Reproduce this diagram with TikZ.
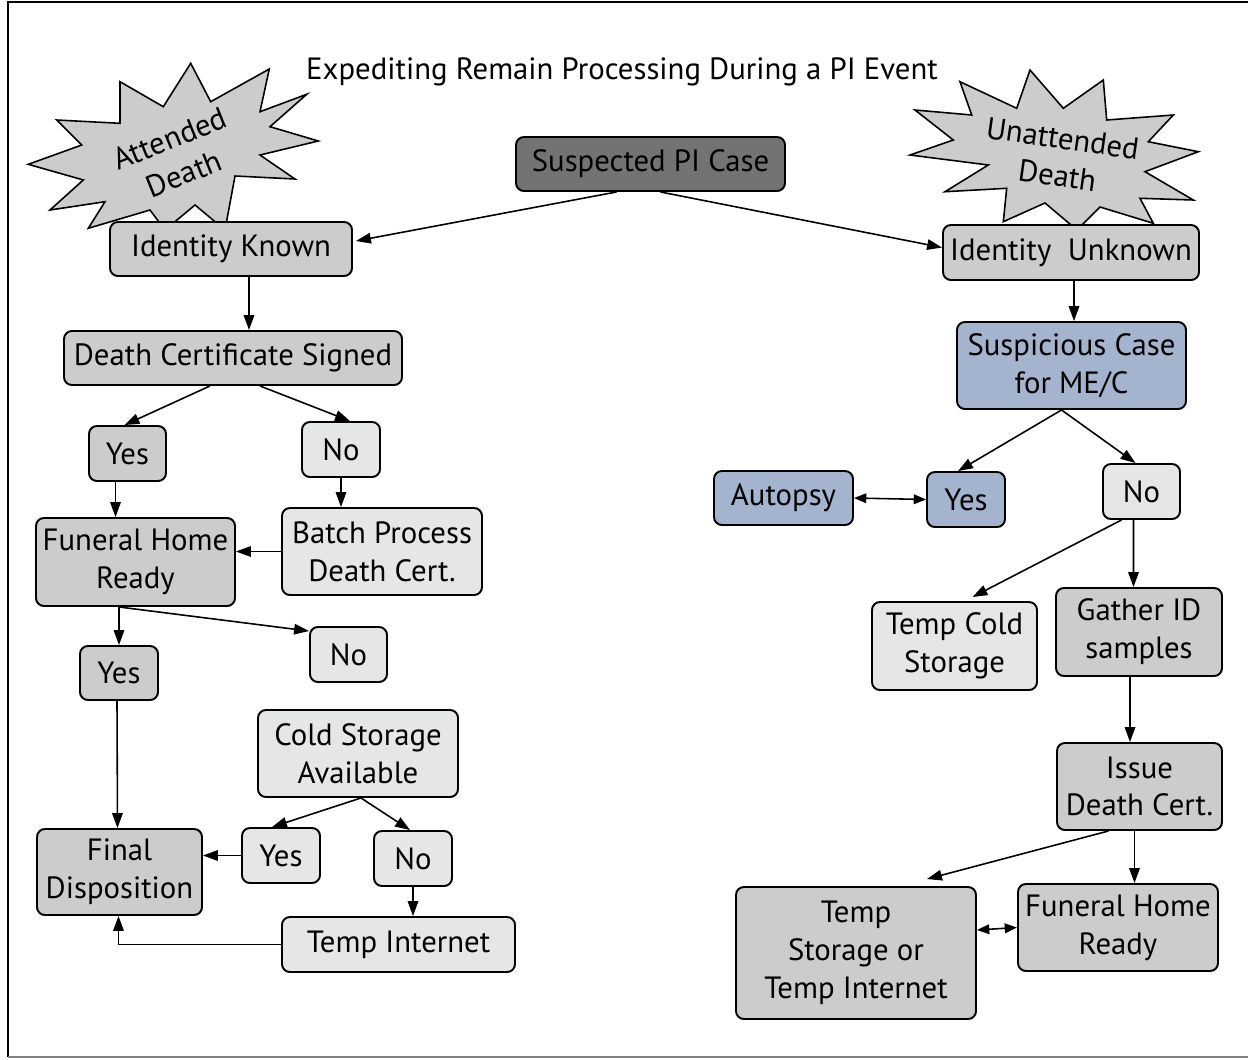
\documentclass[tikz,border=0pt]{standalone}
\usepackage{fontspec}
\setmainfont{PT Sans}
\usepackage{tikz}
\usetikzlibrary{arrows.meta, calc}

\definecolor{darkfill}{RGB}{115,115,115}
\definecolor{midfill}{RGB}{204,204,204}
\definecolor{lightfill}{RGB}{229,230,230}
\definecolor{bluefill}{RGB}{164,180,207}

\tikzset{
  box/.style={draw, line width=1.1pt, rounded corners=4.5pt, align=center, inner sep=0pt},
  darkbox/.style={box, fill=darkfill},
  midbox/.style={box, fill=midfill},
  lightbox/.style={box, fill=lightfill},
  bluebox/.style={box, fill=bluefill},
  wh/.style 2 args={minimum width=#1*0.02cm, minimum height=#2*0.02cm},
  arr/.style={-{Triangle[length=8.5pt,width=6pt]}, line width=0.9pt},
  darr/.style={{Triangle[length=7pt,width=5.5pt]}-{Triangle[length=7pt,width=5.5pt]}, line width=0.9pt},
  burst/.style={draw, fill=midfill, line width=0.9pt}
}

\begin{document}
\begin{tikzpicture}[x=0.02cm, y=-0.02cm, font=\fontsize{17.5}{21.5}\selectfont]
    \useasboundingbox (0,0) rectangle (1248,1059);
    \draw[line width=1.4pt] (1248,2) -- (8,2) -- (8,1057);
    \draw[gray, line width=0.8pt] (8,1057) -- (1248,1057);
    \draw[burst] (190.7,63.3) -- (210.7,101.7) -- (269.3,69) -- (260,111.7) -- (306.7,94.3) -- (270,126.7) -- (318.3,141) -- (260,155) -- (295,179) -- (235,176) -- (225,230) -- (195,205) -- (165,230) -- (150,210) -- (88.3,228.3) -- (105,201.7) -- (50,210) -- (83.3,180) -- (28.3,164.3) -- (81.7,145) -- (56.7,120) -- (120,123.3) -- (120,81.7) -- (163.3,106.7) -- cycle;
    \draw[burst] (1030,70) -- (1063.3,108.3) -- (1103.3,80) -- (1106.7,120) -- (1173.3,115) -- (1148.3,141.7) -- (1198.3,151.7) -- (1145,171.7) -- (1193.3,200) -- (1140,198.3) -- (1153.3,223.3) -- (1100,207) -- (1077,230) -- (1045,203) -- (1003.3,221.7) -- (1006.7,188.3) -- (945,191.7) -- (988.3,165) -- (910,155) -- (953.3,140) -- (915,110) -- (971.7,115) -- (960,81.7) -- (1016.7,108.3) -- cycle;
    \node (title) at (622,72) {Expediting Remain Processing During a PI Event};
    \node (attd) [rotate=22, align=center] at (177,156) {Attended\\Death};
    \node (unattd) [rotate=-8, align=center] at (1060,157) {Unattended\\Death};

    \node (susp) [darkbox, wh={269}{54}] at (650.5,164) {Suspected PI Case};
    \node (idk) [midbox, wh={242}{54}] at (231,249) {Identity Known};
    \node (idu) [midbox, wh={256}{55}] at (1071,252.5) {Identity~ Unknown};

    \node (dcs) [midbox, wh={338}{54}] at (233,358) {Death Certificate Signed};
    \node (yes1) [midbox, wh={77}{55}] at (127.5,453.5) {Yes};
    \node (no1) [lightbox, wh={78}{55}] at (341,449.5) {No};
    \node (fh) [midbox, wh={199}{88}] at (135.5,562) {Funeral Home\\Ready};
    \node (batch) [lightbox, wh={200}{87}] at (382,551.5) {Batch Process\\Death Cert.};
    \node (yes2) [midbox, wh={78}{54}] at (119,673) {Yes};
    \node (no2) [lightbox, wh={77}{55}] at (348.5,654.5) {No};
    \node (cold) [lightbox, wh={200}{87}] at (358,753.5) {Cold Storage\\Available};
    \node (fin) [midbox, wh={165}{86}] at (119.5,872) {Final\\Disposition};
    \node (yes3) [lightbox, wh={78}{55}] at (281,855.5) {Yes};
    \node (no3) [lightbox, wh={78}{55}] at (413,858.5) {No};
    \node (tint) [lightbox, wh={233}{55}] at (398.5,944.5) {Temp Internet};

    \node (smc) [bluebox, wh={229}{87}] at (1071.5,365.5) {Suspicious Case\\for ME/C};
    \node (aut) [bluebox, wh={139}{54}] at (783.5,498) {Autopsy};
    \node (yesr) [bluebox, wh={78}{55}] at (966,499.5) {Yes};
    \node (nor) [lightbox, wh={77}{55}] at (1141.5,491.5) {No};
    \node (tcold) [lightbox, wh={165}{88}] at (954.5,646) {Temp Cold\\Storage};
    \node (gath) [midbox, wh={166}{88}] at (1139,632) {Gather ID\\samples};
    \node (iss) [midbox, wh={165}{87}] at (1139.5,786.5) {Issue\\Death Cert.};
    \node (tstor) [midbox, wh={240}{132}] at (856,953) {Temp\\Storage or\\Temp Internet};
    \node (fhr) [midbox, wh={200}{87}] at (1118,927.5) {Funeral Home\\Ready};

    \draw[arr] ($(susp.south)+(-34,0)$) -- ($(idk.east)+(3,-8)$);
    \draw[arr] ($(susp.south)+(10,0)$) -- ($(idu.west)+(0,-5)$);
    \draw[arr] ($(idk.south)+(18,0)$) -- ($(dcs.north)+(16,0)$);
    \draw[arr] ($(dcs.south)+(-23,0)$) -- ($(yes1.north)+(-3,0)$);
    \draw[arr] ($(dcs.south)+(27,0)$) -- ($(no1.north)+(9,0)$);
    \draw[arr] ($(yes1.south)+(-12,0)$) -- ($(fh.north)+(-20,0)$);
    \draw[arr] (no1.south) -- (no1.south |- batch.north);
    \draw[arr] (batch.west) -- (batch.west -| fh.east);
    \draw[arr] (yes2.north |- fh.south) -- (yes2.north);
    \draw[arr] (yes2.north |- fh.south) -- ($(no2.north west)+(0,5)$);
    \draw[arr] ($(yes2.south)+(-2,0)$) -- ($(fin.north)+(-2,0)$);
    \draw[arr] ($(cold.south)+(3,0)$) -- ($(yes3.north)+(-9,0)$);
    \draw[arr] ($(cold.south)+(3,0)$) -- ($(no3.north)+(-3,0)$);
    \draw[arr] (yes3.west) -- (yes3.west -| fin.east);
    \draw[arr] (no3.south) -- (no3.south |- tint.north);
    \draw[arr] (tint.west) -| ($(fin.south)+(-1,0)$);

    \draw[arr] ($(idu.south)+(3,0)$) -- ($(smc.north)+(2.5,0)$);
    \draw[arr] ($(smc.south)+(-10,0)$) -- ($(yesr.north)+(-8,0)$);
    \draw[arr] ($(smc.south)+(-10,0)$) -- ($(nor.north)+(-6,0)$);
    \draw[darr] (aut.east) -- (yesr.west);
    \draw[arr] ($(nor.south)+(-20,0)$) -- ($(tcold.north)+(18,-4)$);
    \draw[arr] ($(nor.south)+(-8,0)$) -- ($(gath.north)+(-5.5,0)$);
    \draw[arr] ($(gath.south)+(-9,0)$) -- ($(iss.north)+(-9.5,0)$);
    \draw[arr] ($(iss.south)+(-31,0)$) -- ($(tstor.north)+(71,-7)$);
    \draw[arr] ($(iss.south)+(-5,0)$) -- ($(fhr.north)+(16.5,0)$);
    \draw[darr] ($(tstor.east)+(0,-23)$) -- (fhr.west);
\end{tikzpicture}
\end{document}
